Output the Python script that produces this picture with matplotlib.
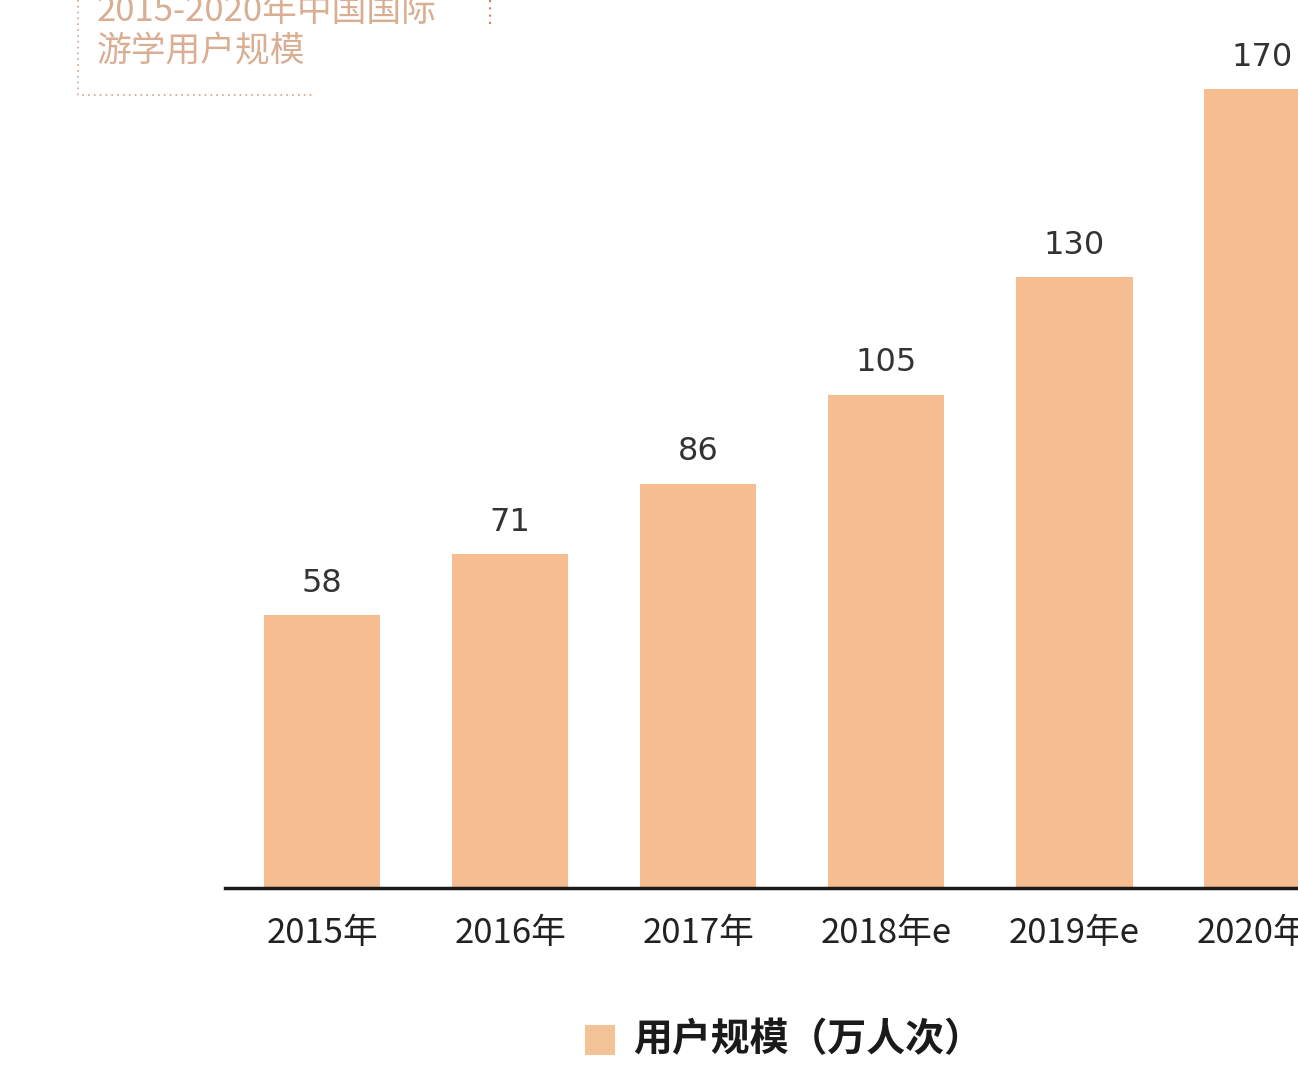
import matplotlib
matplotlib.use("Agg")
import matplotlib.pyplot as plt
from matplotlib.lines import Line2D
from matplotlib.patches import Rectangle

plt.rcParams['font.family'] = ['Noto Sans CJK SC', 'DejaVu Sans']

categories = ["2015年", "2016年", "2017年", "2018年e", "2019年e", "2020年e"]
values = [58, 71, 86, 105, 130, 170]
title_lines = ["2015-2020年中国国际", "游学用户规模"]
legend_label = "用户规模（万人次）"

W, H = 1298, 1080
fig = plt.figure(figsize=(W / 100, H / 100), dpi=100)
fig.patch.set_facecolor("white")

ax = fig.add_axes([225 / W, (H - 888) / H, 1 - 225 / W, 888 / H])
bar_color = "#F5BD90"
x = list(range(len(categories)))
ax.bar(x, values, width=0.62, color=bar_color, zorder=2)
for xi, v in zip(x, values):
    ax.text(xi, v + 3.5, str(v), ha="center", va="bottom", fontsize=23,
            color="#333333", family=['DejaVu Sans'])
ax.set_xlim(-0.516, 5.19)
ax.set_ylim(0, 189)
for s in ["top", "right", "left"]:
    ax.spines[s].set_visible(False)
ax.spines["bottom"].set_color("#1a1a1a")
ax.spines["bottom"].set_linewidth(2.5)
ax.set_yticks([])
ax.set_xticks(x)
ax.set_xticklabels(categories, fontsize=25, color="#222222")
ax.tick_params(axis="x", length=0, pad=20)

# title (partially cut off at top)
tcol = "#D9AE92"
fig.text(97 / W, 1 - 12 / H, title_lines[0], fontsize=25, color=tcol, ha="left", va="center")
fig.text(97 / W, 1 - 52 / H, title_lines[1], fontsize=25, color=tcol, ha="left", va="center")
box_col = "#C9A48C"
fig.add_artist(Line2D([78 / W, 78 / W, 315 / W], [1.0, 1 - 95 / H, 1 - 95 / H],
                      transform=fig.transFigure, color=box_col, lw=1.2, ls=(0, (1, 2.5))))
fig.add_artist(Line2D([490 / W, 490 / W], [1.0, 1 - 25 / H],
                      transform=fig.transFigure, color="#D08060", lw=1.5, ls=(0, (1, 2.5))))

# legend
fig.add_artist(Rectangle((585 / W, 1 - 1055 / H), 30 / W, 30 / H, transform=fig.transFigure,
                         facecolor="#F2C497", edgecolor="none"))
fig.text(633 / W, 1 - 1040 / H, legend_label, fontsize=28, fontweight="bold",
         color="#1a1a1a", ha="left", va="center")

fig.savefig("out.png", dpi=100)
